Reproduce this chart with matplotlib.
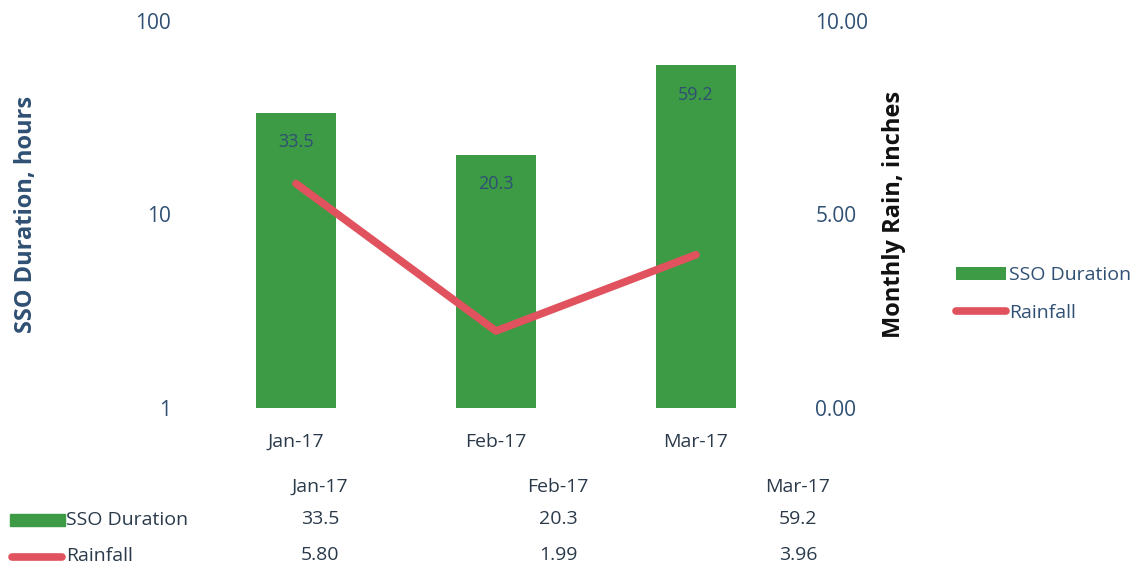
import matplotlib
matplotlib.use("Agg")
import matplotlib.pyplot as plt
from matplotlib.lines import Line2D
from matplotlib.patches import Rectangle

months = ["Jan-17", "Feb-17", "Mar-17"]
sso_duration = [33.5, 20.3, 59.2]
rainfall = [5.80, 1.99, 3.96]
left_ticks = [1, 10, 100]
left_tick_labels = ["1", "10", "100"]
right_ticks = [0, 5, 10]
right_tick_labels = ["0.00", "5.00", "10.00"]

plt.rcParams['font.family'] = ['Open Sans', 'DejaVu Sans']
BLUE = "#2f5073"
GREEN = "#3d9a45"
RED = "#e0535e"
DARK = "#2a3a4a"

fig = plt.figure(figsize=(11.41, 5.69), dpi=100)
ax = fig.add_axes([196/1141, 1-408/569, 600/1141, 387/569])
x = list(range(len(months)))
ax.bar(x, sso_duration, width=0.4, color=GREEN, label="SSO Duration", zorder=2)
ax.set_yscale("log")
ax.set_ylim(1, 100)
ax.set_xlim(-0.5, 2.5)
ax.set_yticks(left_ticks)
ax.set_yticklabels(left_tick_labels)
ax.yaxis.set_minor_locator(matplotlib.ticker.NullLocator())
ax.set_xticks(x)
ax.set_xticklabels(months)
ax.tick_params(axis="y", colors=BLUE, labelsize=15, length=0, pad=18)
ax.tick_params(axis="x", colors=DARK, labelsize=14, length=0, pad=18)
for s in ax.spines.values():
    s.set_visible(False)
ax.set_ylabel("SSO Duration, hours", color=BLUE, fontsize=17, fontweight="bold", labelpad=70)
for xi, v in zip(x, sso_duration):
    ax.text(xi, v / 1.42, f"{v:.1f}", ha="center", va="center", color=BLUE, fontsize=13, zorder=4)

ax2 = ax.twinx()
ax2.plot(x, rainfall, color=RED, lw=5.5, solid_capstyle="round", label="Rainfall", zorder=3)
ax2.set_ylim(0, 10)
ax2.set_yticks(right_ticks)
ax2.set_yticklabels(right_tick_labels)
ax2.tick_params(axis="y", colors=BLUE, labelsize=15, length=0, pad=14)
for s in ax2.spines.values():
    s.set_visible(False)
ax2.set_ylabel("Monthly Rain, inches", color="#111111", fontsize=17, fontweight="bold", labelpad=10)

h1, l1 = ax.get_legend_handles_labels()
h2, l2 = ax2.get_legend_handles_labels()
fig.legend(h1 + h2, l1 + l2, loc="center left", bbox_to_anchor=(938/1141, 1-294/569),
           frameon=False, fontsize=14, labelcolor=BLUE, handlelength=2.6, handletextpad=0.15,
           labelspacing=1.0, handleheight=0.6)

# data table below chart
col_x = [320, 558, 798]
for cx, m in zip(col_x, months):
    fig.text(cx/1141, 1-487/569, m, ha="center", va="center", fontsize=14, color=DARK)
for cx, v in zip(col_x, sso_duration):
    fig.text(cx/1141, 1-519/569, f"{v:.1f}", ha="center", va="center", fontsize=14, color=DARK)
for cx, v in zip(col_x, rainfall):
    fig.text(cx/1141, 1-555/569, f"{v:.2f}", ha="center", va="center", fontsize=14, color=DARK)
fig.text(66/1141, 1-520/569, "SSO Duration", ha="left", va="center", fontsize=14, color=DARK)
fig.text(66/1141, 1-556/569, "Rainfall", ha="left", va="center", fontsize=14, color=DARK)
fig.add_artist(Rectangle((10/1141, 1-526/569), 55/1141, 12/569, color=GREEN, transform=fig.transFigure))
fig.add_artist(Line2D([12/1141, 62/1141], [1-557/569, 1-557/569], color=RED, lw=5.5,
                      solid_capstyle="round", transform=fig.transFigure))

fig.savefig("out.png", dpi=100)
